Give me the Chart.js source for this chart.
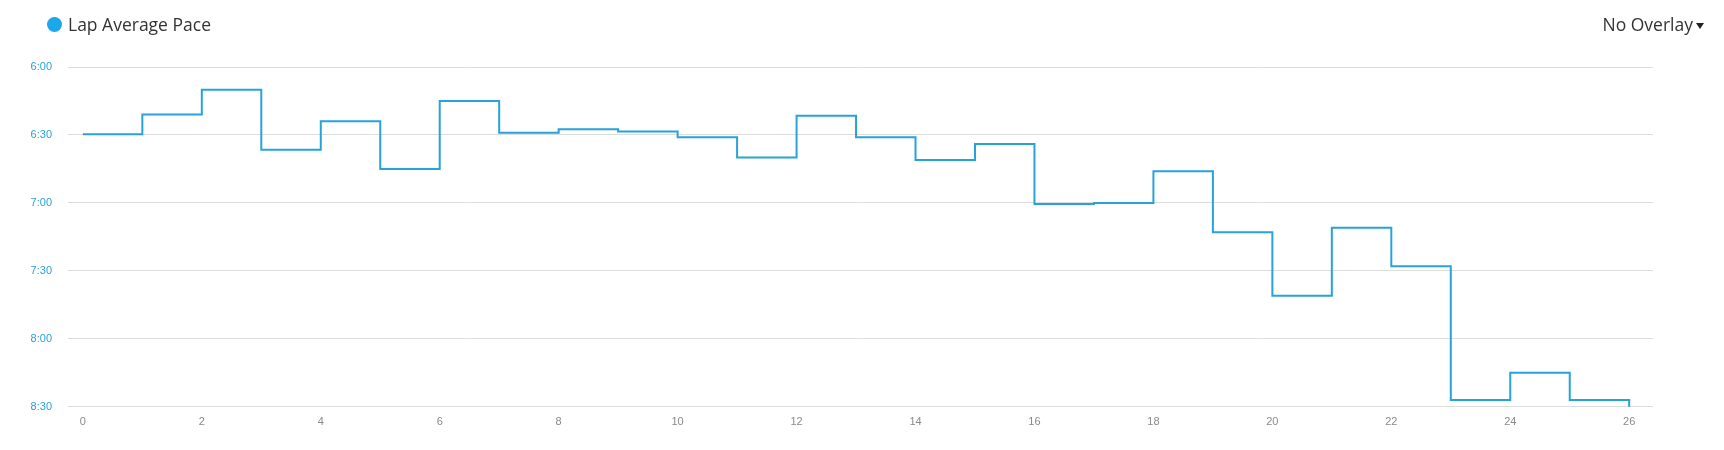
<!DOCTYPE html>
<html>
<head>
<meta charset="utf-8">
<script src="https://cdn.jsdelivr.net/npm/chart.js@4/dist/chart.umd.min.js"></script>
<style>
    html, body { margin: 0; padding: 0; background: #fff; }
    #wrap { position: relative; width: 1724px; height: 450px; }
    #paceChart { position: absolute; left: 0; top: 0; }
    .legend { position: absolute; left: 47px; top: 12px; font-family: "Open Sans", sans-serif; font-size: 17.5px; color: #333; display: flex; align-items: center; }
    .legend .dot { width: 15px; height: 15px; border-radius: 50%; background: #1ba7ea; margin-right: 6px; }
    .overlay { position: absolute; right: 20px; top: 12px; font-family: "Open Sans", sans-serif; font-size: 17.5px; color: #333; display: flex; align-items: center; }
    .overlay .arrow { width: 0; height: 0; border-left: 4px solid transparent; border-right: 4px solid transparent; border-top: 6px solid #222; margin-left: 3px; margin-top: 3px; }
</style>
</head>
<body>
<div id="wrap">
    <canvas id="paceChart" width="1724" height="450"></canvas>
    <div class="legend"><span class="dot"></span>Lap Average Pace</div>
    <div class="overlay">No Overlay<span class="arrow"></span></div>
</div>
<script>
// mile where each lap starts (last entry is the finish at 26.2)
const splitMile = [0, 1, 2, 3, 4, 5, 6, 7, 8, 9, 10, 11, 12, 13, 14, 15, 16, 17, 18, 19, 20, 21, 22, 23, 24, 25, 26, 26.2];
// lap average pace in seconds per mile (last value repeats the final partial lap)
const lapPace = [389.7, 381, 370, 396.5, 384, 405, 375, 389, 387.5, 388.5, 391, 400, 381.5, 391, 401, 394,
    420.5, 420, 406, 433, 461, 431, 448, 507, 495, 507, 525, 525];
const xTicks = [0, 2, 4, 6, 8, 10, 12, 14, 16, 18, 20, 22, 24, 26];
const yTicks = [360, 390, 420, 450, 480, 510];

function fmtPace(sec) {
    let m = Math.floor(sec / 60);
    let s = Math.round(sec % 60);
    return m + ":" + (s < 10 ? "0" + s : s);
}

const points = splitMile.map(function (m, i) {
    return { x: m, y: lapPace[i] };
});

const ctx = document.getElementById("paceChart").getContext("2d");
new Chart(ctx, {
    type: "line",
    data: {
        datasets: [{
            label: "Lap Average Pace",
            data: points,
            borderColor: "#27a3da",
            borderWidth: 2,
            pointRadius: 0,
            stepped: true,
            fill: false
        }]
    },
    options: {
        responsive: false,
        animation: false,
        layout: { padding: { top: 67, right: 71, bottom: 12, left: 0 } },
        plugins: {
            legend: { display: false },
            tooltip: { enabled: false }
        },
        scales: {
            x: {
                type: "linear",
                min: -0.25,
                max: 26.4,
                border: { display: false },
                grid: { display: false, drawTicks: false },
                afterBuildTicks: function (scale) {
                    scale.ticks = xTicks.map(function (v) { return { value: v }; });
                },
                ticks: {
                    padding: 9,
                    color: "#8a8a8a",
                    font: { family: "Liberation Sans", size: 11 },
                    maxRotation: 0,
                    autoSkip: false
                }
            },
            y: {
                reverse: true,
                min: 360,
                max: 510,
                border: { display: false },
                grid: { color: "#dcdcdc", lineWidth: 1, drawTicks: false },
                afterBuildTicks: function (scale) {
                    scale.ticks = yTicks.map(function (v) { return { value: v }; });
                },
                afterFit: function (scale) {
                    scale.width = 68;
                },
                ticks: {
                    padding: 16,
                    color: "#2aa0d6",
                    font: { family: "Liberation Sans", size: 11 },
                    callback: function (v) { return fmtPace(v); }
                }
            }
        }
    }
});
</script>
</body>
</html>
